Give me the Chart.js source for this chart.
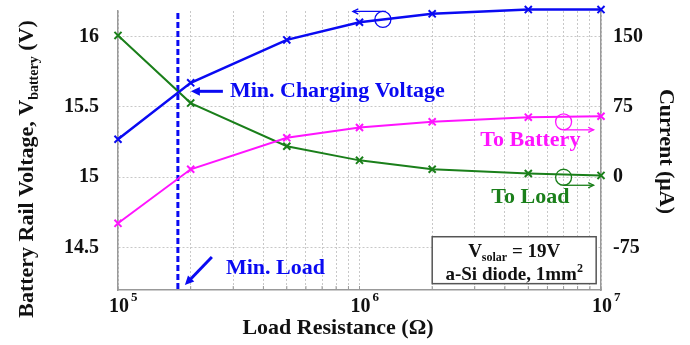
<!DOCTYPE html>
<html>
<head>
<meta charset="utf-8">
<script src="https://cdn.jsdelivr.net/npm/chart.js@4.4.0/dist/chart.umd.min.js"></script>
<style>
    html, body { margin: 0; padding: 0; background: #fff; }
    #wrap { width: 690px; height: 345px; position: relative; }
</style>
</head>
<body>
<div id="wrap"><canvas id="chart"></canvas></div>
<script>
// Load resistance (Ohm), x axis
const loadResistance = [1e5, 2e5, 5e5, 1e6, 2e6, 5e6, 1e7];
// Battery rail voltage (V), left axis
const batteryVoltage = [15.27, 15.67, 15.975, 16.10, 16.16, 16.19, 16.19];
// Currents (uA), right axis
const currentToBattery = [-49, 8.5, 42, 53, 59, 64, 65];
const currentToLoad = [151, 79, 33, 18, 8.5, 4, 2];

const voltageTicks = [14.5, 15, 15.5, 16];
const currentTicks = [-75, 0, 75, 150];
const decadeTicks = [1e5, 1e6, 1e7];
const minLoadResistance = 1.77e5;

const BLUE = '#0a0af2';
const GREEN = '#1a7f1a';
const MAGENTA = '#ff14ff';
const SERIF = '"Liberation Serif", "Times New Roman", serif';

// minor ticks 1..9 per decade for the log grid
const minorTicks = [];
for (let i = 0; i < decadeTicks.length - 1; i++) {
    for (let m = 1; m <= 9; m++) minorTicks.push(m * decadeTicks[i]);
}
minorTicks.push(decadeTicks[decadeTicks.length - 1]);

function toPoints(ys) {
    return loadResistance.map((x, i) => ({ x: x, y: ys[i] }));
}

function arrow(ctx, x1, y1, x2, y2, color, width, head, filled) {
    const a = Math.atan2(y2 - y1, x2 - x1);
    ctx.save();
    ctx.strokeStyle = color;
    ctx.fillStyle = color;
    ctx.lineWidth = width;
    ctx.beginPath();
    ctx.moveTo(x1, y1);
    ctx.lineTo(x2 - (filled ? Math.cos(a) * head * 0.6 : 0), y2 - (filled ? Math.sin(a) * head * 0.6 : 0));
    ctx.stroke();
    ctx.beginPath();
    ctx.moveTo(x2 - head * Math.cos(a - 0.45), y2 - head * Math.sin(a - 0.45));
    ctx.lineTo(x2, y2);
    ctx.lineTo(x2 - head * Math.cos(a + 0.45), y2 - head * Math.sin(a + 0.45));
    if (filled) { ctx.closePath(); ctx.fill(); } else { ctx.stroke(); }
    ctx.restore();
}

// text with sub/superscript parts: [text, size, yShift]
function richText(ctx, parts, x, y, align) {
    let total = 0;
    parts.forEach(p => { ctx.font = 'bold ' + p[1] + 'px ' + SERIF; p.w = ctx.measureText(p[0]).width; total += p.w; });
    let cx = align === 'center' ? x - total / 2 : x;
    ctx.textAlign = 'left';
    ctx.textBaseline = 'alphabetic';
    parts.forEach(p => {
        ctx.font = 'bold ' + p[1] + 'px ' + SERIF;
        ctx.fillText(p[0], cx, y + p[2]);
        cx += p.w;
    });
}

const overlayPlugin = {
    id: 'overlay',
    beforeDatasetsDraw(chart) {
        const ctx = chart.ctx;
        const xs = chart.scales.x;
        const area = chart.chartArea;
        // small inward tick marks
        ctx.save();
        ctx.strokeStyle = '#999';
        ctx.lineWidth = 1;
        minorTicks.forEach(v => {
            const px = xs.getPixelForValue(v);
            ctx.beginPath(); ctx.moveTo(px, area.bottom); ctx.lineTo(px, area.bottom - 4); ctx.stroke();
        });
        ctx.restore();
        // minimum load line
        const lx = xs.getPixelForValue(minLoadResistance);
        ctx.save();
        ctx.strokeStyle = BLUE;
        ctx.lineWidth = 3;
        ctx.setLineDash([6, 3]);
        ctx.beginPath();
        ctx.moveTo(lx, area.top + 2);
        ctx.lineTo(lx, area.bottom);
        ctx.stroke();
        ctx.restore();
    },
    afterDraw(chart) {
        const ctx = chart.ctx;
        const xs = chart.scales.x, yl = chart.scales.y, yr = chart.scales.y2;
        const area = chart.chartArea;
        const lx = xs.getPixelForValue(minLoadResistance);

        ctx.save();
        ctx.fillStyle = '#111';
        // x tick labels 10^n
        decadeTicks.forEach(v => {
            const px = xs.getPixelForValue(v) + 1;
            ctx.font = 'bold 20px ' + SERIF;
            ctx.textAlign = 'center';
            ctx.textBaseline = 'middle';
            ctx.fillText('10', px, 307);
            const w = ctx.measureText('10').width;
            ctx.font = 'bold 13px ' + SERIF;
            ctx.textAlign = 'left';
            ctx.fillText(String(Math.round(Math.log10(v))), px + w / 2 + 2, 298);
        });
        // axis titles
        ctx.textAlign = 'center';
        ctx.textBaseline = 'middle';
        ctx.font = 'bold 22px ' + SERIF;
        ctx.fillText('Load Resistance (\u03A9)', 338, 328);

        ctx.save();
        ctx.translate(666, (area.top + area.bottom) / 2 + 1);
        ctx.rotate(Math.PI / 2);
        ctx.fillText('Current (\u03BCA)', 0, 0);
        ctx.restore();

        ctx.save();
        ctx.translate(33, 169);
        ctx.rotate(-Math.PI / 2);
        richText(ctx, [['Battery Rail Voltage, V', 22, 0], ['battery', 14, 5], [' (V)', 22, 0]], 0, 0, 'center');
        ctx.restore();

        // annotations
        ctx.font = 'bold 22px ' + SERIF;
        const cy = yl.getPixelForValue(15.61);
        arrow(ctx, lx + 45, cy, lx + 13, cy, BLUE, 3, 10, true);
        ctx.fillStyle = BLUE;
        ctx.textAlign = 'left';
        ctx.textBaseline = 'middle';
        ctx.fillText('Min. Charging Voltage', lx + 52, cy);

        arrow(ctx, lx + 34, area.bottom - 33, lx + 7, area.bottom - 5, BLUE, 3, 10, true);
        ctx.fillStyle = BLUE;
        ctx.fillText('Min. Load', lx + 48, area.bottom - 22);

        ctx.textAlign = 'center';
        ctx.fillStyle = MAGENTA;
        ctx.fillText('To Battery', xs.getPixelForValue(5.1e6), yr.getPixelForValue(39));
        ctx.fillStyle = GREEN;
        ctx.fillText('To Load', xs.getPixelForValue(5.1e6), yr.getPixelForValue(-21));

        // axis marker circles
        const marks = [
            { x: 1.25e6, y: yl.getPixelForValue(16.12), color: BLUE, dir: -1 },
            { x: 7e6, y: yr.getPixelForValue(59), color: MAGENTA, dir: 1 },
            { x: 7e6, y: yr.getPixelForValue(0), color: GREEN, dir: 1 }
        ];
        marks.forEach(m => {
            const px = xs.getPixelForValue(m.x);
            ctx.save();
            ctx.strokeStyle = m.color;
            ctx.lineWidth = 1.3;
            ctx.beginPath();
            ctx.arc(px, m.y, 8, 0, Math.PI * 2);
            ctx.stroke();
            ctx.restore();
            if (m.dir < 0) {
                arrow(ctx, px + 3, m.y - 8, px - 30, m.y - 8, m.color, 1.3, 6, false);
            } else {
                arrow(ctx, px, m.y + 8, px + 30, m.y + 8, m.color, 1.3, 6, false);
            }
        });

        // info box
        const bx1 = xs.getPixelForValue(2.0e6), bx2 = xs.getPixelForValue(9.55e6);
        const by1 = yl.getPixelForValue(14.578), by2 = yl.getPixelForValue(14.245);
        ctx.fillStyle = '#fff';
        ctx.fillRect(bx1, by1, bx2 - bx1, by2 - by1);
        ctx.strokeStyle = '#555';
        ctx.lineWidth = 1.5;
        ctx.strokeRect(bx1, by1, bx2 - bx1, by2 - by1);
        ctx.fillStyle = '#111';
        const bc = (bx1 + bx2) / 2;
        richText(ctx, [['V', 19, 0], ['solar', 12, 4], [' = 19V', 19, 0]], bc, by1 + 20, 'center');
        richText(ctx, [['a-Si diode, 1mm', 19, 0], ['2', 12, -8]], bc, by1 + 43, 'center');
        ctx.restore();
    }
};

function fixVertical(width) {
    return scale => {
        scale.width = width;
        scale.paddingTop = 0;
        scale.paddingBottom = 0;
    };
}

const ctx = document.getElementById('chart').getContext('2d');
const chartInstance = new Chart(ctx, {
    type: 'line',
    data: {
        datasets: [
            {
                label: 'Battery Rail Voltage',
                data: toPoints(batteryVoltage),
                yAxisID: 'y',
                borderColor: BLUE,
                backgroundColor: BLUE,
                borderWidth: 2.5,
                pointStyle: 'crossRot',
                pointRadius: 5,
                pointBorderWidth: 2,
                clip: false
            },
            {
                label: 'To Battery',
                data: toPoints(currentToBattery),
                yAxisID: 'y2',
                borderColor: MAGENTA,
                backgroundColor: MAGENTA,
                borderWidth: 2,
                pointStyle: 'crossRot',
                pointRadius: 5,
                pointBorderWidth: 2,
                clip: false
            },
            {
                label: 'To Load',
                data: toPoints(currentToLoad),
                yAxisID: 'y2',
                borderColor: GREEN,
                backgroundColor: GREEN,
                borderWidth: 2,
                pointStyle: 'crossRot',
                pointRadius: 5,
                pointBorderWidth: 2,
                clip: false
            }
        ]
    },
    options: {
        responsive: true,
        maintainAspectRatio: false,
        animation: false,
        layout: { padding: { top: 11, left: 0, right: 0, bottom: 0 } },
        plugins: {
            legend: { display: false },
            tooltip: { enabled: false }
        },
        scales: {
            x: {
                type: 'logarithmic',
                min: 1e5,
                max: 1e7,
                afterBuildTicks: scale => { scale.ticks = minorTicks.map(v => ({ value: v })); },
                afterFit: scale => { scale.height = 55; scale.paddingLeft = 0; scale.paddingRight = 0; },
                ticks: { display: false },
                grid: { color: '#c8c8c8', lineWidth: 1, drawTicks: false },
                border: { display: true, color: '#999', width: 1.5, dash: [2, 2] }
            },
            y: {
                position: 'left',
                min: 14.2,
                max: 16.18,
                afterBuildTicks: scale => { scale.ticks = voltageTicks.map(v => ({ value: v })); },
                afterFit: fixVertical(118),
                ticks: {
                    padding: 19,
                    color: '#111',
                    font: { family: SERIF, size: 20, weight: 'bold' },
                    callback: v => String(v)
                },
                grid: { color: '#c8c8c8', lineWidth: 1, drawTicks: false },
                border: { display: true, color: '#999', width: 1.5, dash: [2, 2] }
            },
            y2: {
                position: 'right',
                min: -120,
                max: 177,
                afterBuildTicks: scale => { scale.ticks = currentTicks.map(v => ({ value: v })); },
                afterFit: fixVertical(89),
                ticks: {
                    padding: 12,
                    color: '#111',
                    font: { family: SERIF, size: 20, weight: 'bold' },
                    callback: v => String(v)
                },
                grid: { display: false, drawTicks: false },
                border: { display: true, color: '#999', width: 1.5 }
            }
        }
    },
    plugins: [overlayPlugin]
});
</script>
</body>
</html>
